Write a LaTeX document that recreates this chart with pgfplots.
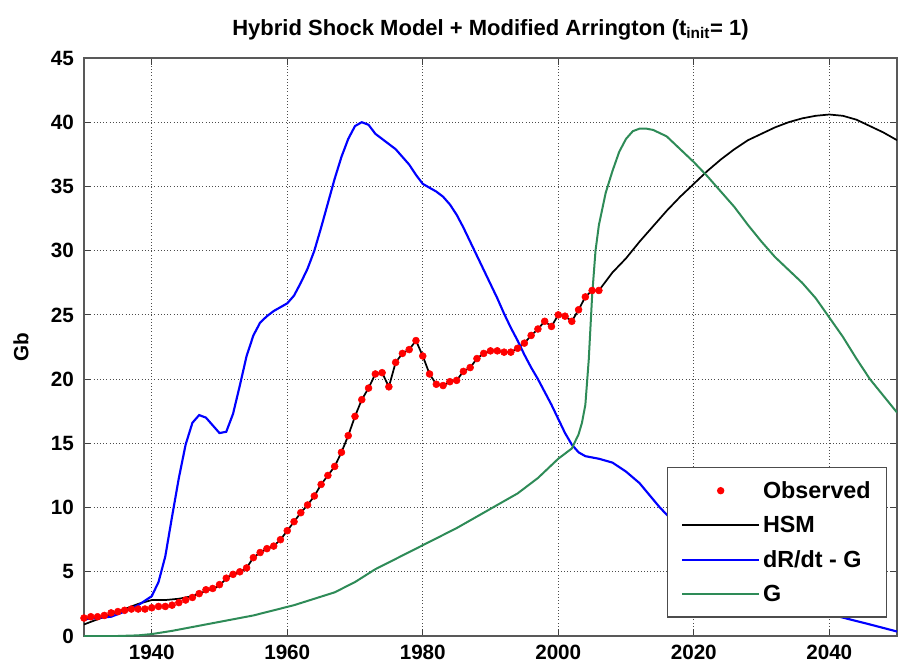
\documentclass[border=0pt]{standalone}
\usepackage{pgfplots}
\pgfplotsset{compat=1.18}
\usepackage{pgfplotstable}
\usepackage{fontspec}
\setmainfont{Liberation Sans}
\definecolor{gcol}{RGB}{46,139,87}

\pgfplotstableread{
year val
1930 1.4
1931 1.5
1932 1.5
1933 1.6
1934 1.8
1935 1.9
1936 2.0
1937 2.1
1938 2.1
1939 2.1
1940 2.2
1941 2.3
1942 2.3
1943 2.4
1944 2.6
1945 2.8
1946 3.0
1947 3.3
1948 3.6
1949 3.7
1950 4.0
1951 4.5
1952 4.8
1953 5.0
1954 5.3
1955 6.1
1956 6.5
1957 6.8
1958 7.0
1959 7.5
1960 8.2
1961 8.9
1962 9.6
1963 10.2
1964 10.9
1965 11.8
1966 12.5
1967 13.2
1968 14.3
1969 15.6
1970 17.1
1971 18.4
1972 19.3
1973 20.4
1974 20.5
1975 19.4
1976 21.3
1977 22.0
1978 22.3
1979 23.0
1980 21.8
1981 20.4
1982 19.6
1983 19.5
1984 19.8
1985 19.9
1986 20.6
1987 20.9
1988 21.6
1989 22.0
1990 22.2
1991 22.2
1992 22.1
1993 22.1
1994 22.4
1995 22.8
1996 23.4
1997 23.9
1998 24.5
1999 24.1
2000 25.0
2001 24.9
2002 24.5
2003 25.4
2004 26.4
2005 26.9
2006 26.9
}\obs

\pgfplotstableread{
year val
1930 0.9
1932 1.3
1934 1.7
1936 2.1
1938 2.5
1940 2.8
1942 2.8
1944 2.9
1946 3.1
1948 3.5
1950 3.9
1951 4.5
1952 4.8
1953 5.0
1954 5.3
1955 6.1
1956 6.5
1957 6.8
1958 7.0
1959 7.5
1960 8.2
1961 8.9
1962 9.6
1963 10.2
1964 10.9
1965 11.8
1966 12.5
1967 13.2
1968 14.3
1969 15.6
1970 17.1
1971 18.4
1972 19.3
1973 20.4
1974 20.5
1975 19.4
1976 21.3
1977 22.0
1978 22.3
1979 23.0
1980 21.8
1981 20.4
1982 19.6
1983 19.5
1984 19.8
1985 19.9
1986 20.6
1987 20.9
1988 21.6
1989 22.0
1990 22.2
1991 22.2
1992 22.1
1993 22.1
1994 22.4
1995 22.8
1996 23.4
1997 23.9
1998 24.5
1999 24.1
2000 25.0
2001 24.9
2002 24.5
2003 25.4
2004 26.4
2005 26.9
2006 26.9
2008 28.3
2010 29.4
2012 30.7
2014 31.9
2016 33.1
2018 34.2
2020 35.2
2022 36.2
2024 37.1
2026 37.9
2028 38.6
2030 39.1
2032 39.6
2034 40.0
2036 40.3
2038 40.5
2040 40.6
2042 40.5
2044 40.2
2046 39.7
2048 39.2
2050 38.6
}\hsm

\pgfplotstableread{
year val
1930 1.3
1932 1.4
1934 1.5
1936 1.9
1938 2.4
1940 3.1
1941 4.2
1942 6.2
1943 9.3
1944 12.3
1945 14.9
1946 16.6
1947 17.2
1948 17.0
1949 16.4
1950 15.8
1951 15.9
1952 17.3
1953 19.5
1954 21.8
1955 23.4
1956 24.4
1957 24.9
1958 25.3
1959 25.6
1960 25.9
1961 26.5
1962 27.5
1963 28.6
1964 30.0
1965 31.8
1966 33.7
1967 35.6
1968 37.3
1969 38.7
1970 39.7
1971 40.0
1972 39.8
1973 39.1
1974 38.7
1975 38.3
1976 37.9
1977 37.3
1978 36.7
1979 35.9
1980 35.2
1981 34.9
1982 34.6
1983 34.2
1984 33.6
1985 32.8
1986 31.8
1987 30.7
1988 29.6
1989 28.5
1990 27.4
1991 26.3
1992 25.1
1993 24.0
1994 23.0
1995 21.9
1996 20.9
1997 20.0
1998 19.0
1999 18.0
2000 16.9
2001 15.8
2002 14.9
2003 14.3
2004 14.0
2005 13.9
2006 13.8
2008 13.5
2010 12.8
2012 11.9
2015 10.0
2020 7.3
2025 5.0
2030 3.5
2035 2.4
2040 1.7
2043 1.3
2046 0.9
2050 0.35
}\blu

\pgfplotstableread{
year val
1930 0.0
1935 0.0
1938 0.05
1940 0.15
1943 0.4
1946 0.7
1949 1.0
1952 1.3
1955 1.6
1958 2.0
1961 2.4
1964 2.9
1967 3.4
1970 4.2
1973 5.2
1976 6.0
1979 6.8
1982 7.6
1985 8.4
1988 9.3
1991 10.2
1994 11.1
1997 12.3
1999 13.3
2000 13.8
2001 14.2
2002 14.6
2003 15.7
2003.5 16.6
2004 18.0
2004.5 21.5
2005 26.5
2005.5 30.0
2006 32.0
2007 34.5
2008 36.2
2009 37.7
2010 38.7
2011 39.3
2012 39.5
2013 39.5
2014 39.4
2016 38.9
2018 37.9
2020 36.9
2022 35.8
2024 34.6
2026 33.4
2028 32.0
2030 30.7
2032 29.5
2034 28.5
2036 27.5
2038 26.3
2040 24.8
2042 23.3
2044 21.6
2046 20.0
2048 18.7
2050 17.4
}\grn

\begin{document}
\begin{tikzpicture}
\begin{axis}[
  name=ax,
  scale only axis,
  width=609.75pt, height=433.5pt,
  xmin=1930, xmax=2050, ymin=0, ymax=45,
  xtick={1940,1960,...,2040},
  ytick={0,5,...,45},
  tick align=inside,
  major tick length=5pt,
  tick style={black!75, line width=0.8pt},
  axis line style={black!65, line width=0.8pt},
  grid=major,
  major grid style={black!70, dotted, line width=0.8pt},
  /pgf/number format/1000 sep={},
  /pgf/number format/assume math mode=true,
  ticklabel style={font=\fontsize{15.5}{18}\selectfont\bfseries},
  xticklabel style={yshift=-3pt},
  yticklabel style={xshift=-4pt},
  ylabel={\textbf{Gb}},
  ylabel style={font=\fontsize{15.5}{18}\selectfont, yshift=10pt},
  title={\textbf{Hybrid Shock Model + Modified Arrington (t\textsubscript{init}= 1)}},
  title style={font=\fontsize{16.5}{19}\selectfont, yshift=4pt},
  legend cell align=left,
  legend style={at={(0.988,0.032)}, anchor=south east, font=\fontsize{17.5}{21}\selectfont\bfseries,
    draw=black!70, line width=0.8pt, inner xsep=10pt, inner ysep=4pt,
    /tikz/every even column/.append style={column sep=3pt},
    nodes={inner ysep=6pt}},
  legend image code/.code={\draw[#1] (0pt,0pt) -- (58pt,0pt);},
]
\addplot[only marks, mark=*, mark size=2.6pt, red, draw=none,
  legend image code/.code={\fill[red] (29pt,0pt) circle (2.8pt);}] table[x=year,y=val] {\obs};
\addlegendentry{Observed}
\addplot[black, line width=1.3pt] table[x=year,y=val] {\hsm};
\addlegendentry{HSM}
\addplot[blue, line width=1.6pt] table[x=year,y=val] {\blu};
\addlegendentry{dR/dt - G}
\addplot[gcol, line width=1.5pt] table[x=year,y=val] {\grn};
\addlegendentry{G}
\end{axis}
\path ([xshift=-63pt,yshift=-26.25pt]ax.south west) rectangle ([xshift=0.75pt,yshift=43.5pt]ax.north east);
\end{tikzpicture}
\end{document}
